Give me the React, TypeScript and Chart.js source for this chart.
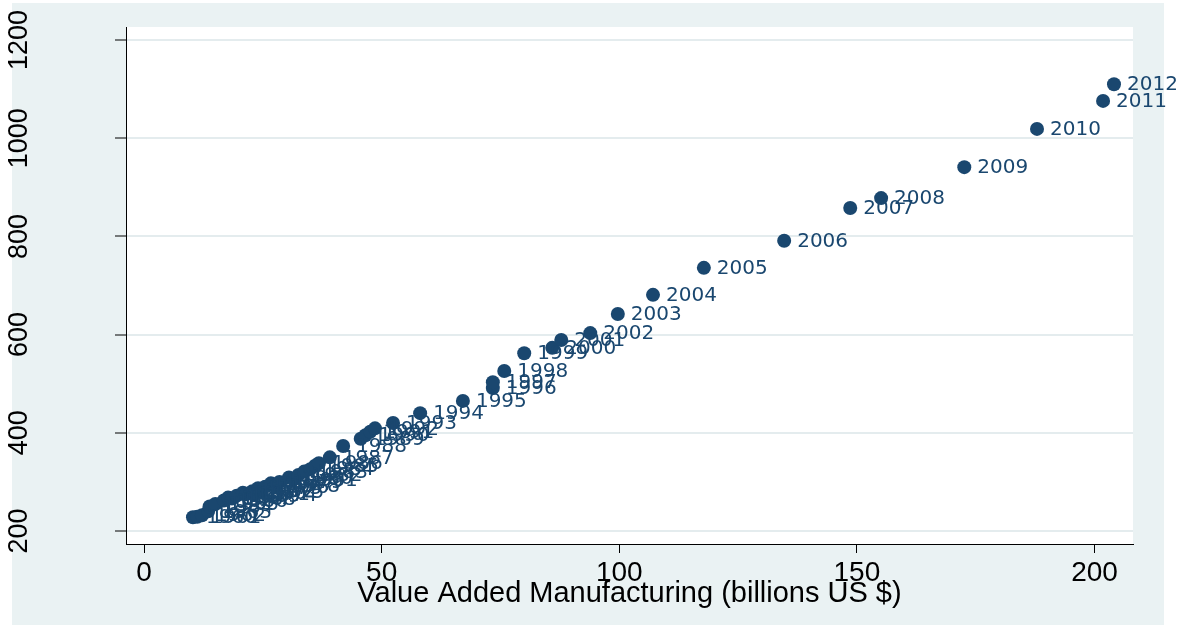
import React, { useEffect, useRef } from 'react';
import { Chart, registerables } from 'chart.js';

Chart.register(...registerables);

const years = [
  1960, 1961, 1962, 1963, 1964, 1965, 1966, 1967, 1968, 1969,
  1970, 1971, 1972, 1973, 1974, 1975, 1976, 1977, 1978, 1979,
  1980, 1981, 1982, 1983, 1984, 1985, 1986, 1987, 1988, 1989,
  1990, 1991, 1992, 1993, 1994, 1995, 1996, 1997, 1998, 1999,
  2000, 2001, 2002, 2003, 2004, 2005, 2006, 2007, 2008, 2009,
  2010, 2011, 2012,
];

const manufacturing = [
  10.3, 11.2, 12.2, 13.5, 13.8, 15.0, 16.8, 17.7, 18.5, 19.5,
  20.8, 21.5, 22.8, 24.0, 23.0, 24.5, 25.5, 26.7, 27.8, 28.5,
  30.5, 31.5, 32.5, 33.7, 35.0, 36.0, 36.8, 39.1, 41.9, 45.6,
  46.6, 47.6, 48.6, 52.4, 58.1, 67.1, 73.4, 73.4, 75.8, 80.0,
  85.9, 87.8, 93.9, 99.7, 107.1, 117.8, 134.7, 148.6, 155.1, 172.6,
  187.9, 201.8, 204.1,
];

const otherValue = [
  228, 229, 232, 240, 250, 255, 262, 268, 266, 272,
  278, 275, 281, 287, 274, 280, 290, 297, 293, 300,
  309, 305, 314, 321, 326, 333, 338, 350, 373, 388,
  395, 402, 409, 420, 440, 465, 491, 503, 526, 562,
  573, 589, 603, 642, 681, 736, 791, 858, 878, 941,
  1019, 1076, 1110,
];

const xTicks = [0, 50, 100, 150, 200];
const yTicks = [200, 400, 600, 800, 1000, 1200];
const xTitle = 'Value Added Manufacturing (billions US $)';

const NAVY = '#1A476F';
const PANEL = '#EAF2F3';
const GRID = '#E4ECEE';
const AXIS_FONT = '"Liberation Sans", Arial, sans-serif';
const LABEL_FONT = '"DejaVu Sans", sans-serif';

export default function App() {
  const ref = useRef<HTMLCanvasElement>(null);

  useEffect(() => {
    const canvas = ref.current;
    if (!canvas) return;

    const bgPlugin = {
      id: 'panelBg',
      beforeDraw(chart: any) {
        const { ctx, chartArea: a } = chart;
        ctx.save();
        ctx.fillStyle = '#ffffff';
        ctx.fillRect(0, 0, chart.width, chart.height);
        ctx.fillStyle = PANEL;
        ctx.fillRect(12, 3, 1152, 622);
        ctx.fillStyle = '#ffffff';
        ctx.fillRect(a.left, a.top, a.right - a.left, a.bottom - a.top);
        ctx.restore();
      },
    };

    const labelPlugin = {
      id: 'yearLabels',
      afterDatasetsDraw(chart: any) {
        const { ctx } = chart;
        const meta = chart.getDatasetMeta(0);
        ctx.save();
        ctx.font = `20px ${LABEL_FONT}`;
        ctx.fillStyle = NAVY;
        ctx.textAlign = 'left';
        ctx.textBaseline = 'middle';
        meta.data.forEach((pt: any, i: number) => {
          ctx.fillText(String(years[i]), pt.x + 13, pt.y + 1);
        });
        ctx.restore();
      },
      afterDraw(chart: any) {
        const { ctx } = chart;
        const ys = chart.scales.y;
        ctx.save();
        ctx.font = `27px ${AXIS_FONT}`;
        ctx.fillStyle = '#000000';
        ctx.textAlign = 'center';
        ctx.textBaseline = 'middle';
        ys.ticks.forEach((t: any) => {
          const py = ys.getPixelForValue(t.value);
          ctx.save();
          ctx.translate(20, py);
          ctx.rotate(-Math.PI / 2);
          ctx.fillText(String(t.value), 0, 0);
          ctx.restore();
        });
        ctx.restore();
      },
    };

    const chart = new Chart(canvas, {
      type: 'scatter',
      data: {
        datasets: [
          {
            data: manufacturing.map((x, i) => ({ x, y: otherValue[i] })),
            backgroundColor: NAVY,
            borderColor: NAVY,
            borderWidth: 0,
            pointRadius: 7,
            pointHoverRadius: 7,
          },
        ],
      },
      options: {
        animation: false,
        responsive: false,
        devicePixelRatio: 1,
        layout: { padding: { top: 27, right: 49, left: 0, bottom: 0 } },
        plugins: {
          legend: { display: false },
          tooltip: { enabled: false },
        },
        scales: {
          x: {
            type: 'linear',
            min: -3.79,
            max: 208.1,
            afterBuildTicks: (s: any) => {
              s.ticks = xTicks.map((v) => ({ value: v }));
            },
            afterFit: (s: any) => {
              s.height = 81;
            },
            grid: {
              drawOnChartArea: false,
              drawTicks: true,
              tickLength: 9,
              tickColor: '#000000',
              tickWidth: 1,
            },
            border: { display: true, color: '#000000', width: 1 },
            ticks: {
              color: '#000000',
              font: { family: AXIS_FONT, size: 28 },
              padding: 3,
              maxRotation: 0,
              minRotation: 0,
            },
            title: {
              display: true,
              text: xTitle,
              color: '#000000',
              font: { family: AXIS_FONT, size: 29 },
              padding: { top: 0, bottom: 14 },
            },
          },
          y: {
            type: 'linear',
            min: 173.5,
            max: 1226.5,
            afterBuildTicks: (s: any) => {
              s.ticks = yTicks.map((v) => ({ value: v }));
            },
            afterFit: (s: any) => {
              s.width = 126;
            },
            grid: {
              color: GRID,
              lineWidth: 2,
              drawOnChartArea: true,
              drawTicks: true,
              tickLength: 11,
              tickColor: '#000000',
              tickWidth: 1,
            },
            border: { display: true, color: '#000000', width: 1 },
            ticks: { display: false },
          },
        },
      },
      plugins: [bgPlugin, labelPlugin],
    });

    return () => {
      chart.destroy();
    };
  }, []);

  return (
    <div style={{ position: 'fixed', left: 0, top: 0, width: 1182, height: 625 }}>
      <canvas ref={ref} width={1182} height={625} style={{ display: 'block' }} />
    </div>
  );
}
